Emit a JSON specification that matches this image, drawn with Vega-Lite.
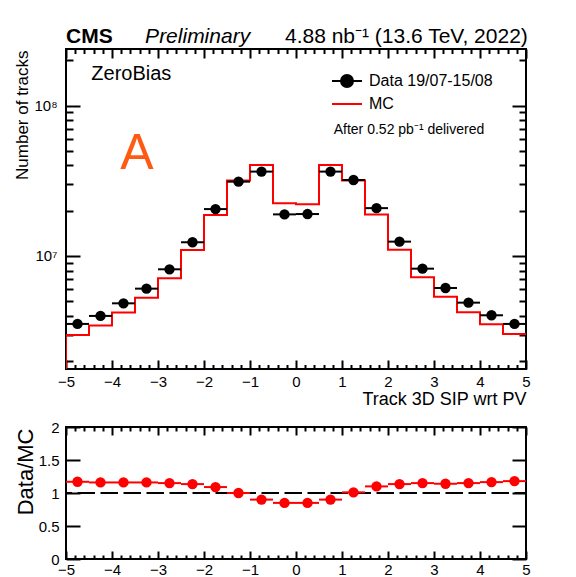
{
  "$schema": "https://vega.github.io/schema/vega-lite/v6.json",
  "background": "white",
  "padding": {"left": 12, "top": 24, "right": 5, "bottom": 0},
  "datasets": {
    "pts": [
      {"x": -4.75, "lo": -5, "hi": -4.5, "data": 3530000, "ratio": 1.17},
      {"x": -4.25, "lo": -4.5, "hi": -4, "data": 3990000, "ratio": 1.16},
      {"x": -3.75, "lo": -4, "hi": -3.5, "data": 4840000, "ratio": 1.16},
      {"x": -3.25, "lo": -3.5, "hi": -3, "data": 6060000, "ratio": 1.16},
      {"x": -2.75, "lo": -3, "hi": -2.5, "data": 8150000, "ratio": 1.15},
      {"x": -2.25, "lo": -2.5, "hi": -2, "data": 12330000, "ratio": 1.135},
      {"x": -1.75, "lo": -2, "hi": -1.5, "data": 20500000, "ratio": 1.09},
      {"x": -1.25, "lo": -1.5, "hi": -1, "data": 31200000, "ratio": 1.0},
      {"x": -0.75, "lo": -1, "hi": -0.5, "data": 36400000, "ratio": 0.9},
      {"x": -0.25, "lo": -0.5, "hi": 0, "data": 18900000, "ratio": 0.85},
      {"x": 0.25, "lo": 0, "hi": 0.5, "data": 19000000, "ratio": 0.85},
      {"x": 0.75, "lo": 0.5, "hi": 1, "data": 36400000, "ratio": 0.9},
      {"x": 1.25, "lo": 1, "hi": 1.5, "data": 32000000, "ratio": 1.01},
      {"x": 1.75, "lo": 1.5, "hi": 2, "data": 20800000, "ratio": 1.1},
      {"x": 2.25, "lo": 2, "hi": 2.5, "data": 12450000, "ratio": 1.135},
      {"x": 2.75, "lo": 2.5, "hi": 3, "data": 8230000, "ratio": 1.15},
      {"x": 3.25, "lo": 3, "hi": 3.5, "data": 6120000, "ratio": 1.14},
      {"x": 3.75, "lo": 3.5, "hi": 4, "data": 4890000, "ratio": 1.15},
      {"x": 4.25, "lo": 4, "hi": 4.5, "data": 4030000, "ratio": 1.165},
      {"x": 4.75, "lo": 4.5, "hi": 5, "data": 3530000, "ratio": 1.18}
    ],
    "mc": [
      {"edge": -5, "mc": 1700000},
      {"edge": -5, "mc": 2980000},
      {"edge": -4.5, "mc": 3440000},
      {"edge": -4, "mc": 4200000},
      {"edge": -3.5, "mc": 5280000},
      {"edge": -3, "mc": 7100000},
      {"edge": -2.5, "mc": 10960000},
      {"edge": -2, "mc": 18740000},
      {"edge": -1.5, "mc": 31700000},
      {"edge": -1, "mc": 40300000},
      {"edge": -0.5, "mc": 22400000},
      {"edge": 0, "mc": 22100000},
      {"edge": 0.5, "mc": 40300000},
      {"edge": 1, "mc": 31700000},
      {"edge": 1.5, "mc": 18900000},
      {"edge": 2, "mc": 11000000},
      {"edge": 2.5, "mc": 7210000},
      {"edge": 3, "mc": 5360000},
      {"edge": 3.5, "mc": 4220000},
      {"edge": 4, "mc": 3510000},
      {"edge": 4.5, "mc": 3030000},
      {"edge": 5, "mc": 3030000}
    ]
  },
  "vconcat": [
    {
      "width": 460,
      "height": 320,
      "layer": [
        {
          "data": {"name": "mc"},
          "mark": {"type": "line", "interpolate": "step-after", "strokeWidth": 2, "clip": true},
          "encoding": {
            "x": {
              "field": "edge", "type": "quantitative",
              "scale": {"domain": [-5, 5], "nice": false, "zero": false},
              "axis": {
                "orient": "bottom",
                "values": [-5,-4.8,-4.6,-4.4,-4.2,-4,-3.8,-3.6,-3.4,-3.2,-3,-2.8,-2.6,-2.4,-2.2,-2,-1.8,-1.6,-1.4,-1.2,-1,-0.8,-0.6,-0.4,-0.2,0,0.2,0.4,0.6,0.8,1,1.2,1.4,1.6,1.8,2,2.2,2.4,2.6,2.8,3,3.2,3.4,3.6,3.8,4,4.2,4.4,4.6,4.8,5],
                "tickSize": {"condition": {"test": "abs(datum.value - round(datum.value)) < 0.01", "value": -9}, "value": -4.5},
                "labelExpr": "abs(datum.value - round(datum.value)) < 0.01 ? format(round(datum.value), 'd') : ''",
                "labelPadding": 14.5,
                "title": "Track 3D SIP wrt PV",
                "titleFontSize": 18,
                "titleAnchor": "end",
                "titleAlign": "right",
                "titleBaseline": "alphabetic",
                "titleY": 35.5
              }
            },
            "y": {
              "field": "mc", "type": "quantitative",
              "scale": {"type": "log", "domain": [1770000, 238000000], "nice": false},
              "axis": {
                "orient": "left",
                "values": [2000000,3000000,4000000,5000000,6000000,7000000,8000000,9000000,10000000,20000000,30000000,40000000,50000000,60000000,70000000,80000000,90000000,100000000,200000000],
                "tickSize": {"condition": {"test": "datum.value == 10000000 || datum.value == 100000000", "value": -14}, "value": -7},
                "labelExpr": "datum.value == 10000000 ? '10⁷' : datum.value == 100000000 ? '10⁸' : ''",
                "labelPadding": 23,
                "title": "Number of tracks",
                "titleFontSize": 17,
                "titleAngle": -90,
                "titleAlign": "right",
                "titleBaseline": "alphabetic",
                "titleX": -38.5,
                "titleY": 1
              }
            },
            "stroke": {
              "datum": "MC", "type": "nominal",
              "scale": {"domain": ["MC"], "range": ["#ff0000"]},
              "legend": {
                "orient": "none", "legendX": 265, "legendY": 39, "title": null, "padding": 0,
                "symbolType": "stroke", "symbolSize": 900, "symbolStrokeWidth": 2,
                "labelOffset": 6, "labelFontSize": 16
              }
            }
          }
        },
        {
          "data": {"name": "pts"},
          "mark": {"type": "rule", "strokeWidth": 2, "color": "black"},
          "encoding": {
            "x": {
              "field": "lo", "type": "quantitative",
              "axis": {
                "orient": "top",
                "values": [-5,-4.8,-4.6,-4.4,-4.2,-4,-3.8,-3.6,-3.4,-3.2,-3,-2.8,-2.6,-2.4,-2.2,-2,-1.8,-1.6,-1.4,-1.2,-1,-0.8,-0.6,-0.4,-0.2,0,0.2,0.4,0.6,0.8,1,1.2,1.4,1.6,1.8,2,2.2,2.4,2.6,2.8,3,3.2,3.4,3.6,3.8,4,4.2,4.4,4.6,4.8,5],
                "tickSize": {"condition": {"test": "abs(datum.value - round(datum.value)) < 0.01", "value": -9}, "value": -4.5},
                "labels": false, "title": null
              }
            },
            "x2": {"field": "hi"},
            "y": {
              "field": "data", "type": "quantitative",
              "axis": {
                "orient": "right",
                "values": [2000000,3000000,4000000,5000000,6000000,7000000,8000000,9000000,10000000,20000000,30000000,40000000,50000000,60000000,70000000,80000000,90000000,100000000,200000000],
                "tickSize": {"condition": {"test": "datum.value == 10000000 || datum.value == 100000000", "value": -14}, "value": -7},
                "labels": false, "title": null
              }
            }
          }
        },
        {
          "data": {"name": "pts"},
          "mark": {"type": "point", "filled": true, "size": 107, "opacity": 1},
          "encoding": {
            "x": {"field": "x", "type": "quantitative", "axis": null},
            "y": {"field": "data", "type": "quantitative", "axis": null},
            "color": {
              "datum": "Data 19/07-15/08", "type": "nominal",
              "scale": {"domain": ["Data 19/07-15/08"], "range": ["black"]},
              "legend": {
                "orient": "none", "legendX": 265, "legendY": 16, "title": null, "padding": 0,
                "symbolType": "M-1,0H1M0.4,0A0.4,0.4,0,1,1,-0.4,0A0.4,0.4,0,1,1,0.4,0Z",
                "symbolSize": 900, "symbolStrokeWidth": 2, "symbolStrokeColor": "black", "symbolFillColor": "black",
                "labelOffset": 6, "labelFontSize": 16
              }
            }
          }
        },
        {
          "data": {"values": [{}]},
          "mark": {"type": "text", "text": "CMS", "fontSize": 21, "fontWeight": "bold", "align": "left", "baseline": "alphabetic", "clip": false, "color": "black"},
          "encoding": {"x": {"datum": -5, "type": "quantitative", "axis": null}, "y": {"datum": 261000000, "type": "quantitative", "axis": null}}
        },
        {
          "data": {"values": [{}]},
          "mark": {"type": "text", "text": "Preliminary", "fontSize": 21, "fontStyle": "italic", "align": "left", "baseline": "alphabetic", "clip": false, "color": "black"},
          "encoding": {"x": {"datum": -3.28, "type": "quantitative", "axis": null}, "y": {"datum": 261000000, "type": "quantitative", "axis": null}}
        },
        {
          "data": {"values": [{}]},
          "mark": {"type": "text", "text": "4.88 nb⁻¹ (13.6 TeV, 2022)", "fontSize": 21, "align": "right", "baseline": "alphabetic", "clip": false, "color": "black"},
          "encoding": {"x": {"datum": 5.04, "type": "quantitative", "axis": null}, "y": {"datum": 261000000, "type": "quantitative", "axis": null}}
        },
        {
          "data": {"values": [{}]},
          "mark": {"type": "text", "text": "ZeroBias", "fontSize": 20, "align": "left", "baseline": "alphabetic", "clip": false, "color": "black"},
          "encoding": {"x": {"datum": -4.45, "type": "quantitative", "axis": null}, "y": {"datum": 148000000, "type": "quantitative", "axis": null}}
        },
        {
          "data": {"values": [{}]},
          "mark": {"type": "text", "text": "A", "fontSize": 50, "align": "left", "baseline": "alphabetic", "clip": false, "color": "#ff5a14"},
          "encoding": {"x": {"datum": -3.82, "type": "quantitative", "axis": null}, "y": {"datum": 38000000, "type": "quantitative", "axis": null}}
        },
        {
          "data": {"values": [{}]},
          "mark": {"type": "text", "text": "After 0.52 pb⁻¹ delivered", "fontSize": 14, "align": "left", "baseline": "alphabetic", "clip": false, "color": "black"},
          "encoding": {"x": {"datum": 0.82, "type": "quantitative", "axis": null}, "y": {"datum": 64700000, "type": "quantitative", "axis": null}}
        }
      ],
      "resolve": {"axis": {"x": "independent", "y": "independent"}}
    },
    {
      "width": 460,
      "height": 132,
      "layer": [
        {
          "data": {"values": [{}]},
          "mark": {"type": "rule", "strokeDash": [17.5, 5.5], "strokeDashOffset": 6, "strokeWidth": 2, "color": "black"},
          "encoding": {
            "y": {
              "datum": 1, "type": "quantitative",
              "scale": {"domain": [0, 2], "nice": false, "zero": true},
              "axis": {
                "orient": "left",
                "values": [0, 0.5, 1, 1.5, 2],
                "tickSize": -14,
                "format": "~g",
                "labelPadding": 21,
                "title": "Data/MC",
                "titleFontSize": 22,
                "titleAngle": -90,
                "titleAlign": "right",
                "titleBaseline": "alphabetic",
                "titleX": -33.3,
                "titleY": 1
              }
            }
          }
        },
        {
          "data": {"name": "pts"},
          "mark": {"type": "rule", "strokeWidth": 2, "color": "#ff0000"},
          "encoding": {
            "x": {
              "field": "lo", "type": "quantitative",
              "scale": {"domain": [-5, 5], "nice": false, "zero": false},
              "axis": {
                "orient": "bottom",
                "values": [-5,-4.8,-4.6,-4.4,-4.2,-4,-3.8,-3.6,-3.4,-3.2,-3,-2.8,-2.6,-2.4,-2.2,-2,-1.8,-1.6,-1.4,-1.2,-1,-0.8,-0.6,-0.4,-0.2,0,0.2,0.4,0.6,0.8,1,1.2,1.4,1.6,1.8,2,2.2,2.4,2.6,2.8,3,3.2,3.4,3.6,3.8,4,4.2,4.4,4.6,4.8,5],
                "tickSize": {"condition": {"test": "abs(datum.value - round(datum.value)) < 0.01", "value": -8}, "value": -4},
                "labelExpr": "abs(datum.value - round(datum.value)) < 0.01 ? format(round(datum.value), 'd') : ''",
                "labelPadding": 11,
                "title": null
              }
            },
            "x2": {"field": "hi"},
            "y": {
              "field": "ratio", "type": "quantitative",
              "axis": {
                "orient": "right",
                "values": [0, 0.5, 1, 1.5, 2],
                "tickSize": -14,
                "labels": false, "title": null
              }
            }
          }
        },
        {
          "data": {"name": "pts"},
          "mark": {"type": "point", "filled": true, "size": 107, "opacity": 1, "color": "#ff0000"},
          "encoding": {
            "x": {
              "field": "x", "type": "quantitative",
              "axis": {
                "orient": "top",
                "values": [-5,-4.8,-4.6,-4.4,-4.2,-4,-3.8,-3.6,-3.4,-3.2,-3,-2.8,-2.6,-2.4,-2.2,-2,-1.8,-1.6,-1.4,-1.2,-1,-0.8,-0.6,-0.4,-0.2,0,0.2,0.4,0.6,0.8,1,1.2,1.4,1.6,1.8,2,2.2,2.4,2.6,2.8,3,3.2,3.4,3.6,3.8,4,4.2,4.4,4.6,4.8,5],
                "tickSize": {"condition": {"test": "abs(datum.value - round(datum.value)) < 0.01", "value": -8}, "value": -4},
                "labels": false, "title": null
              }
            },
            "y": {"field": "ratio", "type": "quantitative", "axis": null}
          }
        }
      ],
      "resolve": {"axis": {"x": "independent", "y": "independent"}}
    }
  ],
  "spacing": 58,
  "bounds": "flush",
  "config": {
    "font": "Liberation Sans",
    "view": {"stroke": "black", "strokeWidth": 2},
    "axis": {
      "domain": false, "grid": false,
      "labelFont": "Liberation Sans", "labelFontSize": 15, "labelColor": "black",
      "tickColor": "black", "tickWidth": 2,
      "titleFont": "Liberation Sans", "titleFontWeight": "normal", "titleColor": "black",
      "labelOverlap": false, "labelFlush": false, "labelBound": false
    },
    "legend": {"labelFont": "Liberation Sans", "labelColor": "black"},
    "text": {"font": "Liberation Sans"}
  }
}
